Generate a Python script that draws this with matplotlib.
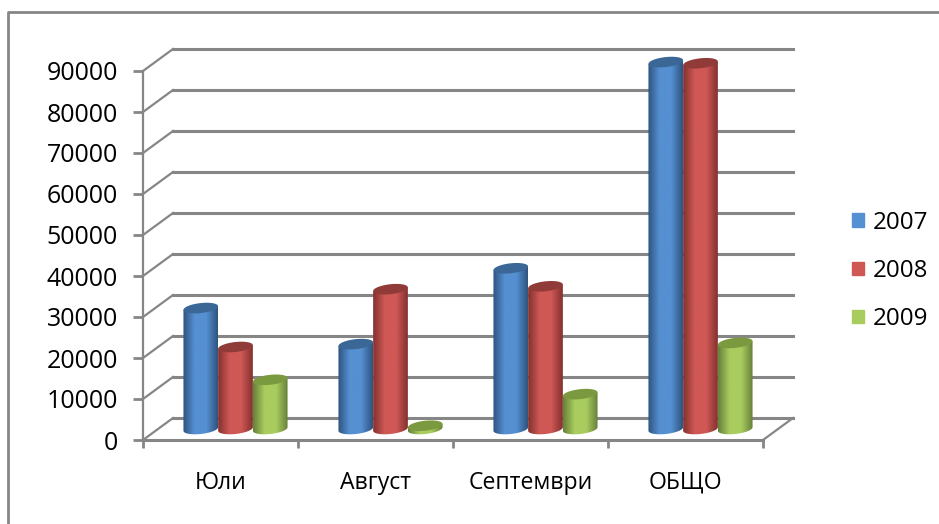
import numpy as np
import matplotlib
matplotlib.use("Agg")
import matplotlib.pyplot as plt
from matplotlib.colors import LinearSegmentedColormap
from matplotlib.lines import Line2D
from matplotlib.patches import Patch, PathPatch, Polygon
from matplotlib.path import Path

months = ["Юли", "Август", "Септември", "ОБЩО"]
years = ["2007", "2008", "2009"]
values_2007 = [29500, 20700, 39200, 89500]
values_2008 = [20000, 34100, 34800, 89200]
values_2009 = [12000, 800, 8500, 21000]
y_ticks = [0, 10000, 20000, 30000, 40000, 50000, 60000, 70000, 80000, 90000]

GRID = "#868686"
PX_X = 4 / 620      # data units per pixel, x
PX_Y = 90000 / 369  # data units per pixel, y
DEPTH_X = 30 * PX_X
DEPTH_Y = 22 * PX_Y
BAR_W = 34.7 * PX_X
RY = 5 * PX_Y
TILT = 1.8 * PX_Y  # ellipses rise to the right

# edge, middle, top ellipse
blue = ("#2f5480", "#5590d2", "#3b6796")
red = ("#843230", "#cf5855", "#913b39")
green = ("#67813a", "#a9cc5e", "#7b9a3f")

plt.rcParams["font.family"] = ["Open Sans", "DejaVu Sans"]


def ellipse_points(x, y, start, stop):
    t = np.linspace(start, stop, 40)
    c = np.cos(t)
    return np.column_stack([x + BAR_W / 2 * c, y + RY * np.sin(t) + TILT * c])


def cylinder(ax, x, value, cols, z):
    """Fake 3D column, x is the centre on the middle of the floor."""
    cmap = LinearSegmentedColormap.from_list(
        "c", [cols[0], cols[1], cols[1], cols[0]])
    left, right = x - BAR_W / 2, x + BAR_W / 2
    base = DEPTH_Y / 2
    bottom = ellipse_points(x, base, np.pi, 2 * np.pi)
    top = base + value
    verts = np.vstack([bottom, [[right, top + TILT], [left, top - TILT], bottom[0]]])
    im = ax.imshow(np.linspace(0, 1, 64).reshape(1, -1), cmap=cmap, aspect="auto",
                   extent=(left, right, base - RY - TILT, top + TILT), zorder=z)
    clip = PathPatch(Path(verts), transform=ax.transData, fc="none", ec="none")
    ax.add_patch(clip)
    # the tallest columns go above the axes box
    im.set_clip_box(ax.figure.bbox)
    im.set_clip_path(clip)
    ax.add_patch(Polygon(ellipse_points(x, top, 0, 2 * np.pi), closed=True, fc=cols[2],
                         ec="none", zorder=z + 0.1, clip_on=False))


fig = plt.figure(figsize=(9.39, 5.24), dpi=100)
ax = fig.add_axes([143 / 939, 1 - 440 / 524, 620 / 939, 369 / 524])
ax.patch.set_alpha(0)

# back wall and side lines
for v in y_ticks:
    ax.plot([0, DEPTH_X], [v, v + DEPTH_Y], color=GRID, lw=1.6, clip_on=False, zorder=1)
    ax.plot([DEPTH_X, 4 + DEPTH_X], [v + DEPTH_Y, v + DEPTH_Y], color=GRID, lw=2.2,
            clip_on=False, zorder=1)
ax.plot([4, 4 + DEPTH_X], [0, DEPTH_Y], color=GRID, lw=1.6, clip_on=False, zorder=1)

for i in range(len(months)):
    centre = i + 0.5 + DEPTH_X / 2
    cylinder(ax, centre - BAR_W, values_2007[i], blue, 3)
    cylinder(ax, centre, values_2008[i], red, 4)
    cylinder(ax, centre + BAR_W, values_2009[i], green, 5)

ax.set_xlim(0, 4)
ax.set_ylim(0, 90000)
ax.set_yticks(y_ticks)
ax.set_xticks([0, 1, 2, 3, 4])
ax.set_xticklabels([])
ax.set_xticks([0.5, 1.5, 2.5, 3.5], months, minor=True)
ax.tick_params(axis="y", length=7, width=2, color=GRID, labelsize=18, pad=11, labelcolor="black")
ax.tick_params(axis="x", which="major", length=6, width=2, color=GRID)
ax.tick_params(axis="x", which="minor", length=0, labelsize=16.6, pad=22)
for name in ["top", "right"]:
    ax.spines[name].set_visible(False)
ax.spines["left"].set_color(GRID)
ax.spines["left"].set_linewidth(1.6)
ax.spines["bottom"].set_color(GRID)
ax.spines["bottom"].set_linewidth(2.2)

handles = [Patch(color=c[1]) for c in (blue, red, green)]
fig.legend(handles, years, loc="center left", bbox_to_anchor=(852 / 939, 1 - 271 / 524),
           frameon=False, fontsize=17.4, handlelength=0.5, handleheight=0.5,
           handletextpad=0.37, labelspacing=1.0, borderpad=0, borderaxespad=0)

# chart frame
fig.add_artist(Line2D([8 / 939, 8 / 939, 1], [0, 1 - 12 / 524, 1 - 12 / 524],
                      color=GRID, lw=2, transform=fig.transFigure))

fig.savefig("out.png", dpi=100)
